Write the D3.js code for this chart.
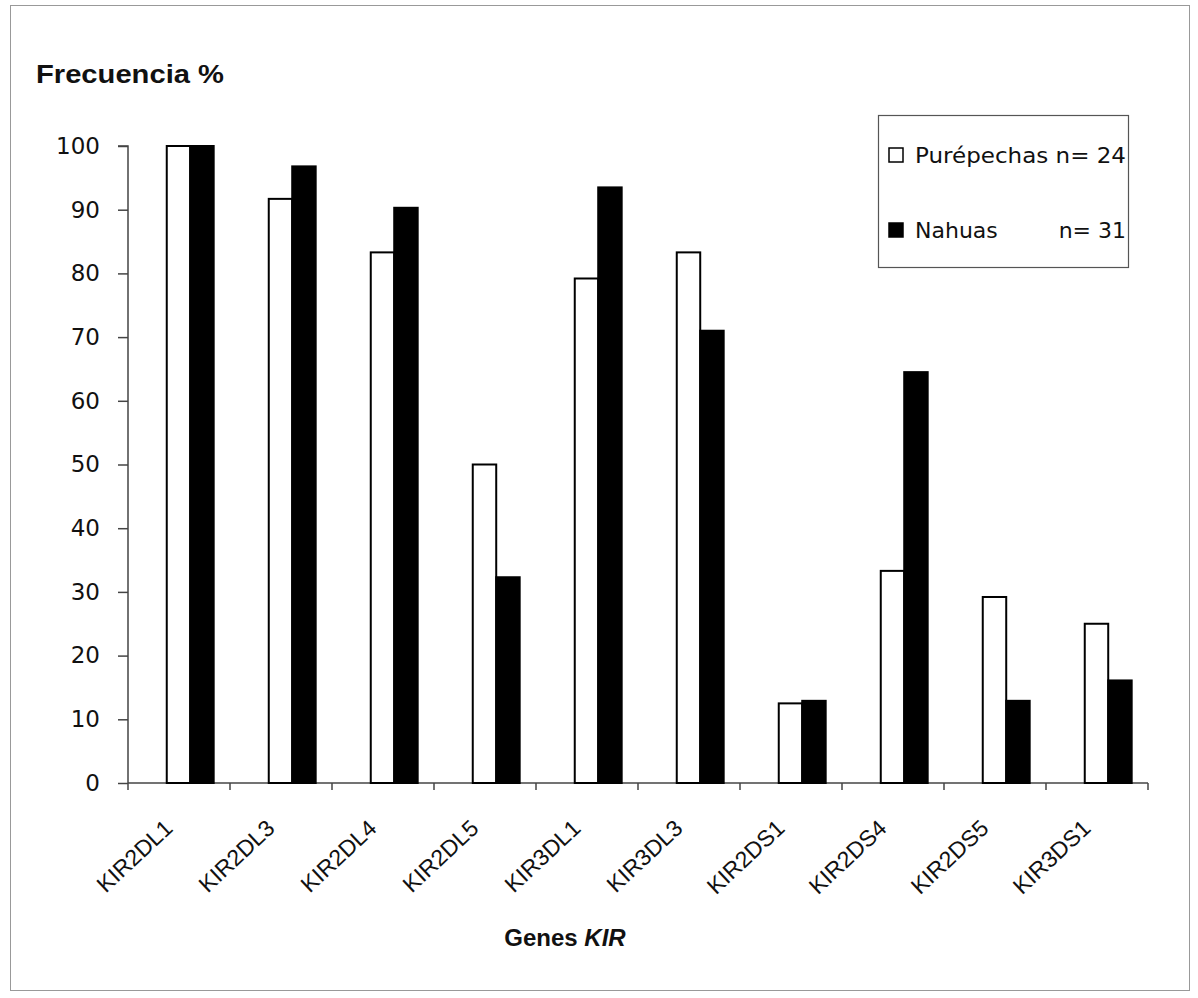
<!DOCTYPE html>
<html><head><meta charset="utf-8">
<script src="https://cdn.jsdelivr.net/npm/d3@7"></script>
<style>body{margin:0;background:#fff}svg{display:block}</style>
</head><body>
<svg id="c" width="1198" height="998"></svg>
<script>
const categories = ["KIR2DL1","KIR2DL3","KIR2DL4","KIR2DL5","KIR3DL1","KIR3DL3","KIR2DS1","KIR2DS4","KIR2DS5","KIR3DS1"];
const purepechas = [100, 91.7, 83.3, 50, 79.2, 83.3, 12.5, 33.3, 29.2, 25];
const nahuas = [100, 96.8, 90.3, 32.3, 93.5, 71.0, 12.9, 64.5, 12.9, 16.1];
const yTicks = [0,10,20,30,40,50,60,70,80,90,100];
const seriesNames = ["Purépechas", "Nahuas"];
const seriesN = ["n= 24", "n= 31"];
const seriesFill = ["#ffffff", "#000000"];

const svg = d3.select("#c");
const L = 128, R = 1148, T = 146, B = 783;
const x = d3.scaleBand().domain(categories).range([L, R]).padding(0);
const y = d3.scaleLinear().domain([0, 100]).range([B, T]);
const bw = x.bandwidth();
const barW = bw * 0.23, off = bw * 0.38;

// outer frame
svg.append("rect").attr("x", 10.5).attr("y", 5.5).attr("width", 1179).attr("height", 985)
  .attr("fill", "none").attr("stroke", "#999").attr("stroke-width", 1);

// y axis
const yAxis = d3.axisLeft(y).tickValues(yTicks).tickSize(10).tickPadding(18);
const gy = svg.append("g").attr("transform", `translate(${L},0)`).call(yAxis);
gy.select(".domain").attr("stroke", "#444").attr("stroke-width", 1.5).attr("d", `M-10,${T}H0V${B}`);
gy.selectAll(".tick line").attr("stroke", "#444").attr("stroke-width", 1.5);
gy.selectAll(".tick text").attr("font-family", "DejaVu Sans").attr("font-size", 23).attr("fill", "#111");

// x axis
const gx = svg.append("g").attr("transform", `translate(0,${B})`);
gx.append("line").attr("x1", L).attr("x2", R).attr("y1", 0).attr("y2", 0).attr("stroke", "#444").attr("stroke-width", 1.5);
const edges = categories.map(c => x(c)).concat([R]);
gx.selectAll("line.tk").data(edges).join("line").attr("class", "tk")
  .attr("x1", d => d).attr("x2", d => d).attr("y1", 0).attr("y2", 7)
  .attr("stroke", "#444").attr("stroke-width", 1.5);
gx.selectAll("text.lab").data(categories).join("text").attr("class", "lab")
  .attr("transform", d => `translate(${x(d) + bw / 2 - 5},${47}) rotate(-43)`)
  .attr("text-anchor", "end").attr("font-family", "Liberation Sans, Arial").attr("font-size", 23)
  .attr("fill", "#111").text(d => d);

// bars
const series = [purepechas, nahuas];
series.forEach((vals, si) => {
  svg.append("g").selectAll("rect").data(categories).join("rect")
    .attr("x", (c) => x(c) + off + si * barW)
    .attr("y", (c, i) => y(vals[i]))
    .attr("width", barW)
    .attr("height", (c, i) => B - y(vals[i]))
    .attr("fill", seriesFill[si]).attr("stroke", "#000").attr("stroke-width", 2);
});

// title
svg.append("text").attr("x", 36).attr("y", 83).attr("font-family", "Liberation Sans, Arial")
  .attr("font-weight", "bold").attr("font-size", 26).attr("textLength", 188)
  .attr("lengthAdjust", "spacingAndGlyphs").attr("fill", "#111").text("Frecuencia %");

// x axis title
const xt = svg.append("text").attr("x", 565).attr("y", 946).attr("text-anchor", "middle")
  .attr("font-family", "Liberation Sans, Arial").attr("font-weight", "bold").attr("font-size", 24).attr("fill", "#111");
xt.append("tspan").text("Genes ");
xt.append("tspan").attr("font-style", "italic").text("KIR");

// legend
const lg = svg.append("g");
lg.append("rect").attr("x", 878.5).attr("y", 115.5).attr("width", 250).attr("height", 152)
  .attr("fill", "#fff").attr("stroke", "#555").attr("stroke-width", 1.2);
const rowsY = [163, 238];
seriesNames.forEach((nm, i) => {
  lg.append("rect").attr("x", 889).attr("y", rowsY[i] - 15).attr("width", 14).attr("height", 14)
    .attr("fill", seriesFill[i]).attr("stroke", "#000").attr("stroke-width", 1.5);
  if (i === 0) {
    lg.append("text").attr("x", 915).attr("y", rowsY[i]).attr("font-family", "DejaVu Sans")
      .attr("font-size", 22).attr("fill", "#111").attr("textLength", 211).attr("lengthAdjust", "spacingAndGlyphs")
      .text(nm + " " + seriesN[i]);
  } else {
    lg.append("text").attr("x", 915).attr("y", rowsY[i]).attr("font-family", "DejaVu Sans")
      .attr("font-size", 22).attr("fill", "#111").text(nm);
    lg.append("text").attr("x", 1126).attr("y", rowsY[i]).attr("text-anchor", "end").attr("font-family", "DejaVu Sans")
      .attr("font-size", 22).attr("fill", "#111").text(seriesN[i]);
  }
});
</script>
</body></html>
